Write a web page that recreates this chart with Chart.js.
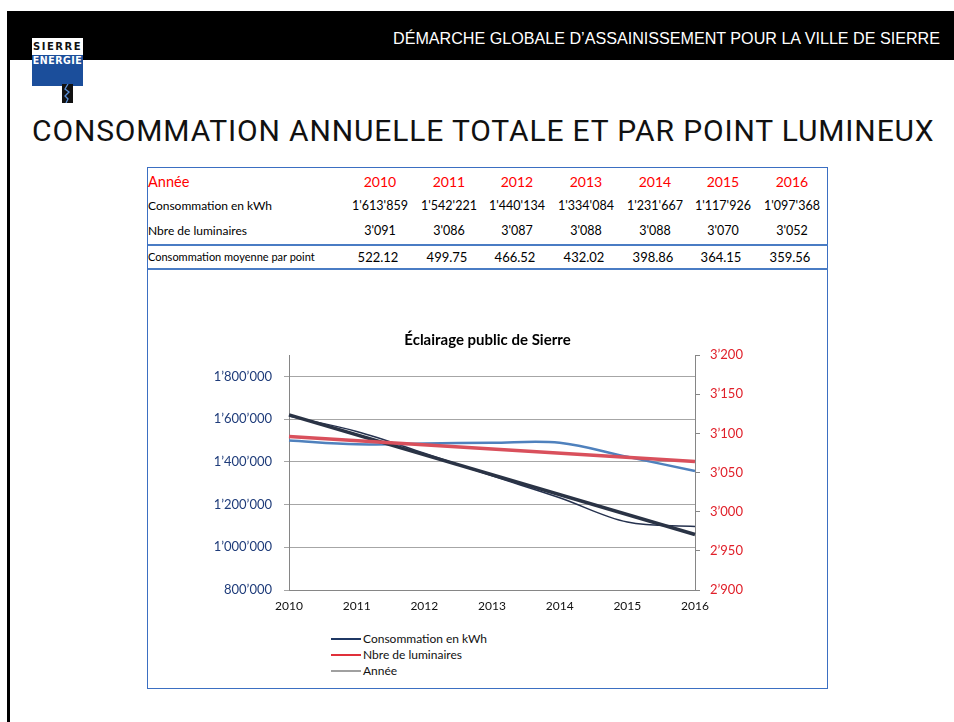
<!DOCTYPE html>
<html>
<head>
<meta charset="utf-8">
<script src="https://cdn.jsdelivr.net/npm/chart.js@4"></script>
<style>
  body { margin: 0; width: 954px; height: 722px; background: #fff; position: relative; overflow: hidden; font-family: Lato, "Open Sans", sans-serif; }
  .abs { position: absolute; white-space: nowrap; }
  #bar { left: 7px; top: 11px; width: 947px; height: 49px; background: #000; }
  #vline { left: 7px; top: 60px; width: 3px; height: 662px; background: #000; }
  #hdr { top: 31px; right: 14px; color: #fff; font: 16px/16px "Liberation Sans", Arial, sans-serif; transform-origin: right center; }
  #logo { left: 32px; top: 38px; width: 51px; height: 48px; background: #fff; }
  #logo .top { position: absolute; left: 0; top: 0; width: 51px; height: 17px; color: #111; font: bold 10px/18px "DejaVu Sans", sans-serif; text-align: center; letter-spacing: 1.5px; }
  #logo .bot { position: absolute; left: 0; top: 17px; width: 51px; height: 31px; background: #1B4E9B; color: #fff; font: bold 10.5px/11px "DejaVu Sans Condensed", sans-serif; text-align: center; letter-spacing: 0.5px; }
  #title { left: 32px; top: 116px; font: 400 30px/30px Roboto, sans-serif; color: #111; }
  #box { left: 147px; top: 167px; width: 679px; height: 520px; border: 1.5px solid #3B6FC2; }
  .cell { position: absolute; white-space: nowrap; }
  .hl { position: absolute; left: 148px; width: 680px; height: 1.5px; background: #4A7CC4; }
  #chart { position: absolute; left: 148px; top: 318px; }
  #legend { left: 331px; top: 631px; font: 12px/16px Lato, sans-serif; color: #111; }
  #legend .item { display: flex; align-items: center; height: 16px; }
  #legend .sw { width: 30px; height: 2px; margin-right: 2px; }
</style>
</head>
<body>
<div id="bar" class="abs"></div>
<div id="vline" class="abs"></div>
<div id="hdr" class="abs">DÉMARCHE GLOBALE D’ASSAINISSEMENT POUR LA VILLE DE SIERRE</div>
<div id="logo" class="abs">
  <div class="top">SIERRE</div>
  <div class="bot">ENERGIE</div>
</div>
<svg class="abs" style="left:62px;top:84px" width="11" height="19" viewBox="0 0 11 19">
  <rect width="11" height="19" fill="#111"/>
  <polyline points="6,0 3,5 7,8 3,12 6,15 4,19" fill="none" stroke="#5A8FD8" stroke-width="1.3"/>
</svg>
<div id="title" class="abs">CONSOMMATION ANNUELLE TOTALE ET PAR POINT LUMINEUX</div>
<div id="box" class="abs"></div>
<div class="hl" style="top:244px"></div>
<div class="hl" style="top:268px"></div>
<div id="table"></div>
<canvas id="chart" width="679" height="302"></canvas>
<div id="legend" class="abs"></div>

<script>
// values
const years = ['2010', '2011', '2012', '2013', '2014', '2015', '2016'];
const consommation = [1613859, 1542221, 1440134, 1334084, 1231667, 1117926, 1097368];
const luminaires = [3091, 3086, 3087, 3088, 3088, 3070, 3052];
const moyenne = ['522.12', '499.75', '466.52', '432.02', '398.86', '364.15', '359.56'];
// straight trend lines, end points
const consommationTrend = [1620000, null, null, null, null, null, 1060000];
const luminairesTrend = [3096, null, null, null, null, null, 3064];
const kwhTicks = [800000, 1000000, 1200000, 1400000, 1600000, 1800000];
const lumTicks = [2900, 2950, 3000, 3050, 3100, 3150, 3200];
const legendNames = ['Consommation en kWh', 'Nbre de luminaires', 'Année'];
const legendColors = ['#1F3864', '#E0303A', '#A0A0A0'];

const font = 'Lato, "Open Sans", sans-serif';

function sep(v, s) {
  return String(v).replace(/\B(?=(\d{3})+(?!\d))/g, s);
}

// stretch the title to the width it has on the slide
function fit(id, w) {
  const el = document.getElementById(id);
  const n = el.textContent.length;
  el.style.letterSpacing = ((w - el.scrollWidth) / n) + 'px';
}
fit('title', 903);
// header is a narrow face: squeeze a regular one
const hdr = document.getElementById('hdr');
hdr.style.transform = 'scaleX(' + (547 / hdr.scrollWidth) + ')';

// table
const table = document.getElementById('table');
const colX = [380, 449, 517, 586, 655, 723, 792];
function cell(text, x, y, size, color, center) {
  const d = document.createElement('div');
  d.className = 'cell';
  d.textContent = text;
  d.style.font = size + 'px/' + 20 + 'px ' + font;
  d.style.color = color;
  d.style.top = (y - 10) + 'px';
  if (center) {
    d.style.left = (x - 60) + 'px';
    d.style.width = '120px';
    d.style.textAlign = 'center';
  } else {
    d.style.left = x + 'px';
  }
  table.appendChild(d);
}
cell('Année', 148, 182, 14.5, '#FF0000');
cell('Consommation en kWh', 148, 206, 12, '#000');
cell('Nbre de luminaires', 148, 231, 12, '#000');
cell('Consommation moyenne par point', 148, 257, 11, '#000');
years.forEach((y, i) => {
  cell(y, colX[i], 182, 14, '#FF0000', true);
  cell(sep(consommation[i], "'"), colX[i], 206, 12.5, '#000', true);
  cell(sep(luminaires[i], "'"), colX[i], 231, 12.5, '#000', true);
  cell(moyenne[i], colX[i] - 2, 257, 13, '#000', true);
});

// legend under the chart
const legend = document.getElementById('legend');
legendNames.forEach((name, i) => {
  const row = document.createElement('div');
  row.className = 'item';
  row.innerHTML = '<span class="sw" style="background:' + legendColors[i] + '"></span><span>' + name + '</span>';
  legend.appendChild(row);
});

const ctx = document.getElementById('chart').getContext('2d');

new Chart(ctx, {
  type: 'line',
  data: {
    labels: years,
    datasets: [
      {
        label: 'Nbre de luminaires (tendance)',
        data: luminairesTrend,
        yAxisID: 'y1',
        borderColor: '#D9505C',
        borderWidth: 3.5,
        spanGaps: true,
        order: 1
      },
      {
        label: 'Consommation en kWh (tendance)',
        data: consommationTrend,
        yAxisID: 'y',
        borderColor: '#2A3345',
        borderWidth: 3.5,
        spanGaps: true,
        order: 2
      },
      {
        label: 'Nbre de luminaires',
        data: luminaires,
        yAxisID: 'y1',
        borderColor: '#4F81BD',
        borderWidth: 2.5,
        tension: 0.35,
        order: 3
      },
      {
        label: 'Consommation en kWh',
        data: consommation,
        yAxisID: 'y',
        borderColor: '#26324F',
        borderWidth: 1.5,
        tension: 0.35,
        order: 4
      }
    ]
  },
  options: {
    responsive: false,
    animation: false,
    elements: { point: { radius: 0 } },
    layout: { padding: 0 },
    plugins: {
      legend: { display: false },
      tooltip: { enabled: false },
      title: {
        display: true,
        text: 'Éclairage public de Sierre',
        color: '#000',
        font: { family: font, size: 15, weight: 'bold' },
        padding: { top: 13, bottom: 6 }
      }
    },
    scales: {
      x: {
        grid: { display: false, drawTicks: false },
        border: { color: '#868686' },
        ticks: { color: '#111', font: { family: font, size: 12 }, padding: 9, autoSkip: false, maxRotation: 0 },
        afterFit: s => { s.height = 30; }
      },
      y: {
        position: 'left',
        min: 800000,
        max: 1900000,
        afterBuildTicks: s => { s.ticks = kwhTicks.map(v => ({ value: v })); },
        grid: { color: '#A6A6A6', tickLength: 5 },
        border: { color: '#868686' },
        ticks: { color: '#1F3C7A', font: { family: font, size: 13 }, padding: 12, callback: v => sep(v, '’') },
        afterFit: s => { s.width = 141; }
      },
      y1: {
        position: 'right',
        min: 2900,
        max: 3200,
        afterBuildTicks: s => { s.ticks = lumTicks.map(v => ({ value: v })); },
        grid: { drawOnChartArea: false, color: '#868686', tickLength: 5 },
        border: { color: '#868686' },
        ticks: { color: '#E0202A', font: { family: font, size: 13 }, padding: 10, callback: v => sep(v, '’') },
        afterFit: s => { s.width = 132; }
      }
    }
  }
});
</script>
</body>
</html>
